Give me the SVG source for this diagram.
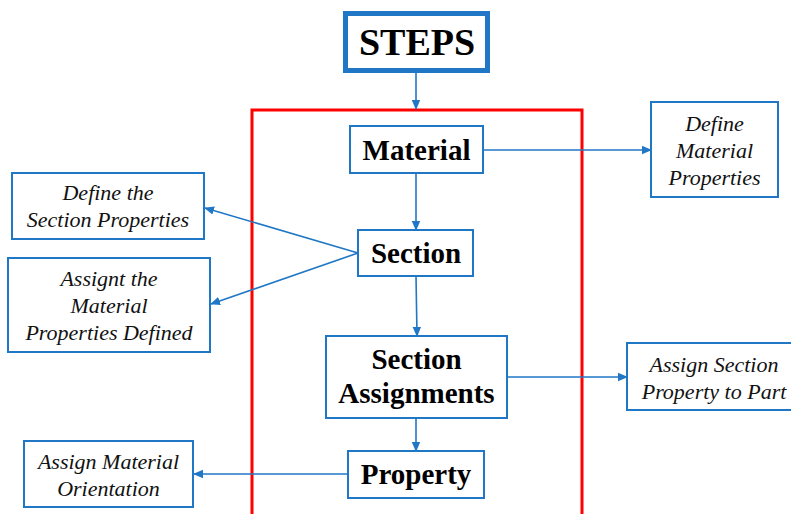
<svg xmlns="http://www.w3.org/2000/svg" width="791" height="514" viewBox="0 0 791 514">
<defs>
<marker id="ah" markerWidth="10" markerHeight="10" refX="9" refY="5" orient="auto" markerUnits="userSpaceOnUse">
<path d="M0,0.8 L10,5 L0,9.2 Z" fill="#1f77c6"/>
</marker>
<style>
.box{fill:#fff;stroke:#1f77c6;stroke-width:2}
.bt{font-family:"Liberation Serif",serif;font-weight:bold;fill:#000;text-anchor:middle}
.it{font-family:"Liberation Serif",serif;font-style:italic;font-size:22px;fill:#111;text-anchor:middle}
.con{fill:none;stroke:#1f77c6;stroke-width:1.6;marker-end:url(#ah)}
</style>
</defs>
<rect width="791" height="514" fill="#fff"/>
<rect x="252" y="110" width="330" height="420" fill="none" stroke="#ff0000" stroke-width="3"/>
<g id="connectors">
<line class="con" x1="416" y1="72" x2="416" y2="109"/>
<line class="con" x1="416" y1="173" x2="416" y2="230"/>
<line class="con" x1="416" y1="276" x2="417" y2="336"/>
<line class="con" x1="416" y1="418" x2="416" y2="451"/>
<line class="con" x1="483" y1="150" x2="651" y2="150"/>
<line class="con" x1="358" y1="253" x2="205" y2="208"/>
<line class="con" x1="358" y1="253" x2="211" y2="304"/>
<line class="con" x1="507" y1="377" x2="627" y2="377"/>
<line class="con" x1="348" y1="474" x2="194" y2="474"/>
</g>
<g id="steps">
<rect x="345.5" y="13.5" width="142" height="57" fill="#fff" stroke="#1f77c6" stroke-width="5"/>
<text class="bt" x="417" y="55" font-size="38">STEPS</text>
</g>
<g id="material">
<rect class="box" x="350" y="126" width="133" height="47"/>
<text class="bt" x="416.5" y="160" font-size="29">Material</text>
</g>
<g id="section">
<rect class="box" x="358" y="230" width="115" height="46"/>
<text class="bt" x="416" y="263" font-size="29">Section</text>
</g>
<g id="section-assignments">
<rect class="box" x="326" y="336" width="181" height="82"/>
<text class="bt" x="416.5" y="369" font-size="29">Section</text>
<text class="bt" x="416.5" y="403" font-size="29">Assignments</text>
</g>
<g id="property">
<rect class="box" x="348" y="451" width="136" height="47"/>
<text class="bt" x="416" y="484" font-size="29">Property</text>
</g>
<g id="define-material-properties">
<rect class="box" x="651" y="102" width="127" height="95"/>
<text class="it" x="714.5" y="131">Define</text>
<text class="it" x="714.5" y="158">Material</text>
<text class="it" x="714.5" y="185">Properties</text>
</g>
<g id="define-section-properties">
<rect class="box" x="12" y="173" width="192" height="66"/>
<text class="it" x="108" y="200">Define the</text>
<text class="it" x="108" y="227">Section Properties</text>
</g>
<g id="assign-material-properties">
<rect class="box" x="8" y="258" width="202" height="94"/>
<text class="it" x="109" y="286">Assignt the</text>
<text class="it" x="109" y="313">Material</text>
<text class="it" x="109" y="340">Properties Defined</text>
</g>
<g id="assign-section-property">
<rect class="box" x="627" y="343" width="170" height="67"/>
<text class="it" x="714" y="372">Assign Section</text>
<text class="it" x="714" y="399">Property to Part</text>
</g>
<g id="assign-material-orientation">
<rect class="box" x="24" y="441" width="169" height="66"/>
<text class="it" x="108.5" y="469">Assign Material</text>
<text class="it" x="108.5" y="496">Orientation</text>
</g>
</svg>
